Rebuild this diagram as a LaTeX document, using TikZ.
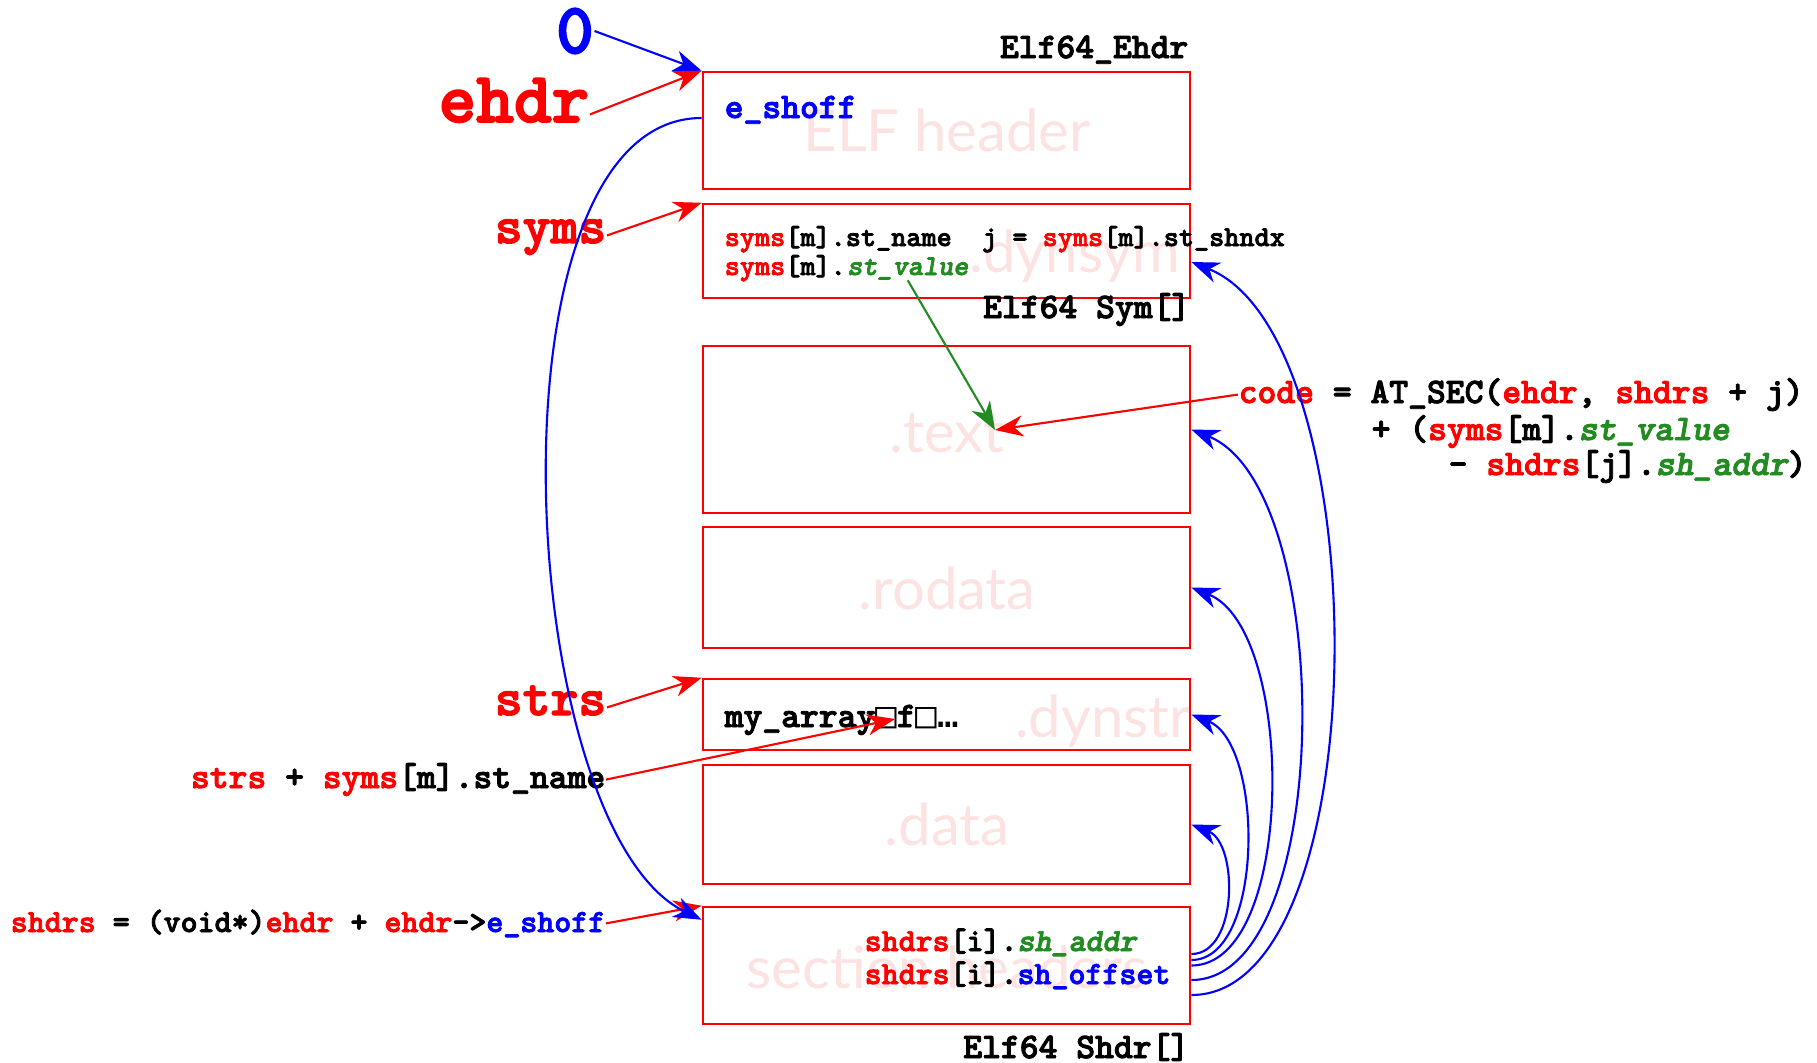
\documentclass[tikz,border=0pt]{standalone}
\usepackage{fontspec}
\usepackage{tikz}
\usetikzlibrary{arrows.meta}
\setmonofont{lmmonolt10-bold.otf}[FakeBold=2.5, ItalicFont=lmmonolt10-boldoblique.otf, BoldFont=lmmonolt10-bold.otf, BoldItalicFont=lmmonolt10-boldoblique.otf]
\newfontfamily\pinkfont{Lato}
\newfontfamily\glyphfont{DejaVu Sans Mono}
\definecolor{faint}{RGB}{253,226,226}
\definecolor{fgreen}{RGB}{34,139,34}
\newcommand{\rd}[1]{\textcolor{red}{#1}}
\newcommand{\gr}[1]{\textcolor{fgreen}{\itshape #1}}
\newcommand{\bl}[1]{\textcolor{blue}{#1}}

\begin{document}
\begin{tikzpicture}[x=0.01cm, y=-0.01cm]
    % Define styles for the boxes, labels and pointers
    \tikzstyle{secbox} = [rectangle, draw=red, line width=0.7pt, minimum width=4.87cm]
    \tikzstyle{seclabel} = [text=faint, font=\pinkfont\fontsize{16.5}{18}\selectfont, inner sep=0pt, anchor=base]
    \tikzstyle{ttlabel} = [font=\ttfamily\bfseries\fontsize{10.2}{12}\selectfont, inner sep=0pt]
    \tikzstyle{ttmid} = [font=\ttfamily\bfseries\fontsize{9.2}{11}\selectfont, inner sep=0pt]
    \tikzstyle{ttsmall} = [font=\ttfamily\bfseries\fontsize{8.2}{10}\selectfont, inner sep=0pt]
    \tikzstyle{bigname} = [font=\ttfamily\bfseries\fontsize{20.4}{24}\selectfont, inner sep=0pt]
    \tikzstyle{midname} = [font=\ttfamily\bfseries\fontsize{15.1}{18}\selectfont, inner sep=0pt]
    \tikzstyle{ptr} = [line width=0.6pt, -{Stealth[length=8pt,width=6pt,inset=2.5pt]}]

    \useasboundingbox (0,0) rectangle (1817,1063);

    % Faint section names
    \node[seclabel] (lblehdr) at (947,151) {ELF header};
    \node[seclabel] (lbldynsym) at (1075,272) {.dynsym};
    \node[seclabel] (lbltext) at (947,452) {.text};
    \node[seclabel] (lblrodata) at (947,609) {.rodata};
    \node[seclabel] (lbldynstr) at (1103,737) {.dynstr};
    \node[seclabel] (lbldata) at (947,845) {.data};
    \node[seclabel] (lblshdr) at (947,988) {section headers};

    % Draw the section boxes
    \foreach \name/\cy/\h in {secehdr/130.5/1.17, secdynsym/251/0.94, sectext/429.5/1.67,
                              secrodata/587.5/1.21, secdynstr/714.5/0.71, secdata/824.5/1.19,
                              secshdr/965.5/1.17} {
        \node[secbox, minimum height=\h cm] (\name) at (946.5,\cy) {};
    }

    % Pointer names on the left
    \node[bigname, text=blue] (zero) at (575,31) {0};
    \node[bigname, text=red, anchor=base east] (ehdr) at (590,122) {ehdr};
    \node[midname, text=red, anchor=base east] (syms) at (607,243) {syms};
    \node[midname, text=red, anchor=base east] (strs) at (607,715) {strs};

    \draw[ptr, blue] (zero.east) -- (secehdr.north west);
    \draw[ptr, red] (ehdr.mid east) -- (secehdr.north west);
    \draw[ptr, red] (syms.mid east) -- (secdynsym.north west);
    \draw[ptr, red] (strs.mid east) -- (secdynstr.north west);

    % ELF header
    \node[ttlabel, anchor=base east] (ehdrtype) at (1189,58) {Elf64\_Ehdr};
    \node[ttlabel, anchor=base west, text=blue] (eshoff) at (724,118) {e\_shoff};

    % Symbol table
    \node[ttsmall, anchor=base west] (namerow) at (724,246) {\rd{syms}[m].st\_name~~j = \rd{syms}[m].st\_shndx};
    \node[ttsmall, anchor=base west] (valrow) at (724,275) {\rd{syms}[m].};
    \node[ttsmall, anchor=base west] (stval) at (valrow.base east) {\gr{st\_value}};
    \node[ttlabel, anchor=base east] (symtype) at (1191,318) {Elf64 Sym[]};

    % Where the code lives
    \coordinate (hit) at (995,430);
    \draw[ptr, fgreen] (stval.south) -- (hit);
    \node[ttlabel, anchor=base west] (codeline) at (1238,403) {\rd{code} = AT\_SEC(\rd{ehdr}, \rd{shdrs} + j)};
    \node[ttlabel, anchor=base west] (codeplus) at (1371,440) {+ (\rd{syms}[m].\gr{st\_value}};
    \node[ttlabel, anchor=base west] (codeminus) at (1448,475) {- \rd{shdrs}[j].\gr{sh\_addr})};
    \draw[ptr, red] (codeline.west) -- (hit);

    % String table
    \node[ttlabel, anchor=base west] (strdata) at (724,727) {my\_array{\glyphfont\mdseries □}f{\glyphfont\mdseries □…}};
    \coordinate (namehit) at (895,719);
    \node[ttlabel, anchor=base east] (nameexpr) at (606,788) {\rd{strs} + \rd{syms}[m].st\_name};
    \draw[ptr, red] (nameexpr.east) -- (namehit);

    % Section headers
    \node[ttmid, anchor=base east] (shdrexpr) at (606,932) {\rd{shdrs} = (void*)\rd{ehdr} + \rd{ehdr}->\bl{e\_shoff}};
    \draw[ptr, red] (shdrexpr.east) -- (secshdr.north west);
    \node[ttmid, anchor=base west] (addrrow) at (864,951) {\rd{shdrs}[i].\gr{sh\_addr}};
    \node[ttmid, anchor=base west] (offrow) at (864,984) {\rd{shdrs}[i].\bl{sh\_offset}};
    \node[ttlabel, anchor=base east] (shdrtype) at (1190,1058) {Elf64 Shdr[]};

    % e_shoff leads to the section headers
    \draw[ptr, blue] ([yshift=0.125cm]secehdr.west) .. controls +(-222,0) and +(-188,-91) .. ([yshift=-0.14cm]secshdr.north west);

    % sh_offset of each section header
    \foreach \tgt/\sy/\ty/\c in {secdata/0.115/0/47, secdynstr/0.055/0/73, secrodata/0/0/105,
                                 sectext/-0.145/0/145, secdynsym/-0.295/-0.11/188} {
        \draw[ptr, blue] ([yshift=\sy cm]secshdr.east) .. controls +(\c,0) and +(\c,0.4*\c) .. ([yshift=\ty cm]\tgt.east);
    }
\end{tikzpicture}
\end{document}
